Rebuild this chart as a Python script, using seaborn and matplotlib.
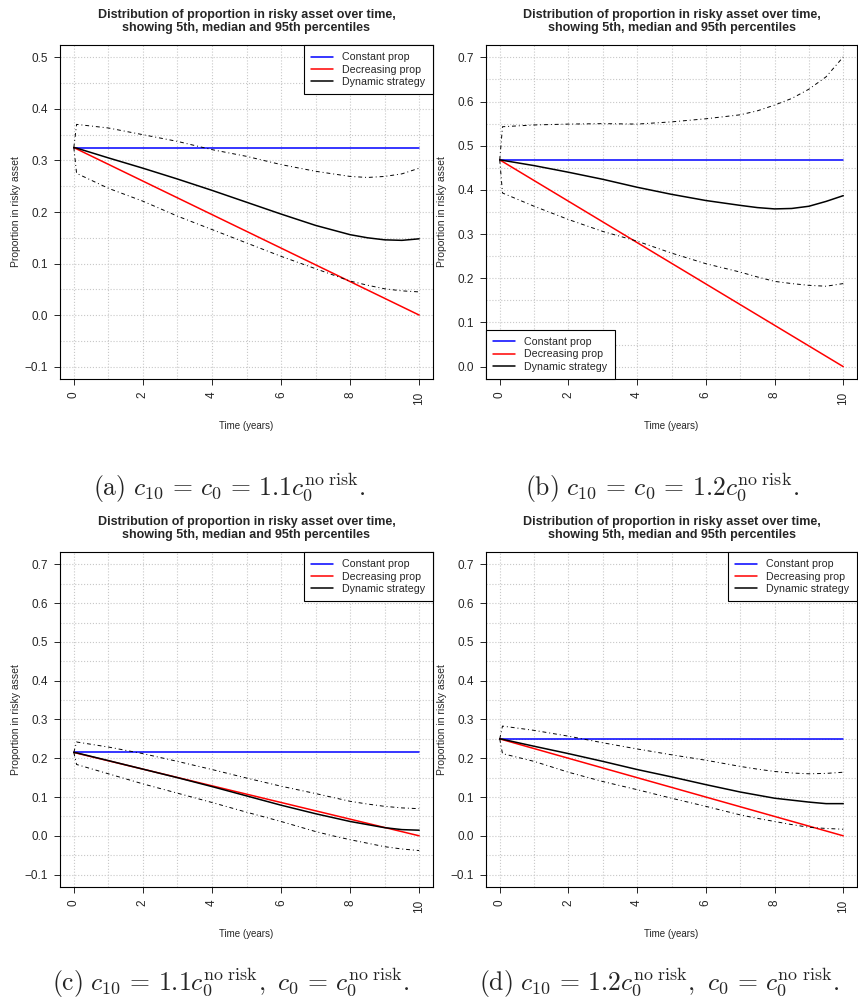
import matplotlib
matplotlib.use('Agg')
import matplotlib.pyplot as plt
import seaborn as sns
import pandas as pd

sns.set_style('ticks')
plt.rcParams['font.family'] = ['Liberation Sans', 'DejaVu Sans']
plt.rcParams['mathtext.fontset'] = 'cm'

# time points (years) where the simulated percentiles were read off
time_pts = [0, 0.08, 1, 2, 3, 4, 5, 6, 7, 7.5, 8, 8.5, 9, 9.5, 10]
line_time = [0, 10]

# starting proportion in the risky asset, one per panel
start_prop = [0.325, 0.468, 0.215, 0.250]

# dynamic strategy: median, 95th and 5th percentiles
median_a = [0.325, 0.324, 0.305, 0.285, 0.264, 0.242, 0.219, 0.196, 0.174, 0.165, 0.156, 0.150, 0.146, 0.145, 0.148]
p95_a = [0.325, 0.370, 0.363, 0.350, 0.337, 0.321, 0.308, 0.292, 0.279, 0.274, 0.269, 0.267, 0.269, 0.274, 0.285]
p05_a = [0.325, 0.275, 0.246, 0.221, 0.192, 0.166, 0.140, 0.114, 0.090, 0.078, 0.066, 0.058, 0.051, 0.047, 0.045]

median_b = [0.468, 0.467, 0.455, 0.440, 0.424, 0.406, 0.390, 0.376, 0.365, 0.360, 0.357, 0.358, 0.363, 0.374, 0.387]
p95_b = [0.468, 0.543, 0.547, 0.549, 0.550, 0.549, 0.554, 0.561, 0.570, 0.579, 0.592, 0.607, 0.628, 0.656, 0.701]
p05_b = [0.468, 0.393, 0.363, 0.333, 0.306, 0.284, 0.257, 0.233, 0.214, 0.203, 0.193, 0.188, 0.184, 0.182, 0.188]

median_c = [0.215, 0.214, 0.194, 0.172, 0.150, 0.127, 0.103, 0.079, 0.057, 0.047, 0.037, 0.029, 0.021, 0.016, 0.0145]
p95_c = [0.215, 0.242, 0.229, 0.212, 0.192, 0.171, 0.149, 0.128, 0.109, 0.099, 0.089, 0.082, 0.076, 0.072, 0.070]
p05_c = [0.215, 0.184, 0.160, 0.134, 0.110, 0.086, 0.061, 0.037, 0.011, 0.000, -0.010, -0.019, -0.028, -0.034, -0.038]

median_d = [0.250, 0.249, 0.231, 0.212, 0.192, 0.171, 0.152, 0.132, 0.113, 0.105, 0.097, 0.092, 0.087, 0.083, 0.083]
p95_d = [0.250, 0.283, 0.272, 0.257, 0.240, 0.224, 0.209, 0.195, 0.179, 0.172, 0.166, 0.162, 0.160, 0.161, 0.164]
p05_d = [0.250, 0.212, 0.192, 0.164, 0.140, 0.119, 0.097, 0.076, 0.054, 0.045, 0.037, 0.029, 0.022, 0.019, 0.017]

medians = [median_a, median_b, median_c, median_d]
upper = [p95_a, p95_b, p95_c, p95_d]
lower = [p05_a, p05_b, p05_c, p05_d]

captions = [
    r'$\mathrm{(a)}\ c_{10}\,=\,c_0\,=\,1.1c_0^{\mathrm{no\ risk}}.$',
    r'$\mathrm{(b)}\ c_{10}\,=\,c_0\,=\,1.2c_0^{\mathrm{no\ risk}}.$',
    r'$\mathrm{(c)}\ c_{10}\,=\,1.1c_0^{\mathrm{no\ risk}},\ c_0\,=\,c_0^{\mathrm{no\ risk}}.$',
    r'$\mathrm{(d)}\ c_{10}\,=\,1.2c_0^{\mathrm{no\ risk}},\ c_0\,=\,c_0^{\mathrm{no\ risk}}.$',
]
y_ranges = [(-0.1, 0.5), (0.0, 0.7), (-0.1, 0.7), (-0.1, 0.7)]
legend_locs = ['upper right', 'lower left', 'upper right', 'upper right']

fig = plt.figure(figsize=(8.58, 10.07), dpi=100)
W, H = 858, 1007
# axes boxes in pixels: left, top, right, bottom
boxes = [(60, 45, 433, 379), (486, 45, 857, 379), (60, 552, 433, 887), (486, 552, 857, 887)]
caption_pos = [(229, 487), (662, 487), (231, 982), (659, 982)]

dotdash = (0, (4, 3, 1, 3))
title = 'Distribution of proportion in risky asset over time,\nshowing 5th, median and 95th percentiles'

for i in range(4):
    l, t, r, b = boxes[i]
    ax = fig.add_axes([l / W, 1 - b / H, (r - l) / W, (b - t) / H])
    s = start_prop[i]
    df = pd.DataFrame({'t': time_pts, 'median': medians[i], 'p95': upper[i], 'p05': lower[i]})

    sns.lineplot(x=line_time, y=[s, s], color='#0000FF', lw=1.1, label='Constant prop', ax=ax)
    sns.lineplot(x=line_time, y=[s, 0.0], color='#FF0000', lw=1.1, label='Decreasing prop', ax=ax)
    sns.lineplot(data=df, x='t', y='median', color='black', lw=1.1, label='Dynamic strategy', ax=ax)
    sns.lineplot(data=df, x='t', y='p95', color='black', lw=0.7, linestyle=dotdash, ax=ax)
    sns.lineplot(data=df, x='t', y='p05', color='black', lw=0.7, linestyle=dotdash, ax=ax)

    lo, hi = y_ranges[i]
    pad = 0.04 * (hi - lo)
    ax.set_ylim(lo - pad, hi + pad)
    ax.set_xlim(-0.4, 10.4)
    ax.set_xticks(range(0, 11, 2))
    ax.set_xticks(range(0, 11), minor=True)
    yt = [round(lo + 0.1 * k, 1) for k in range(int(round((hi - lo) / 0.1)) + 1)]
    ax.set_yticks(yt)
    ax.set_yticks([round(lo + 0.05 * k, 2) for k in range(2 * len(yt) - 1)], minor=True)
    ax.set_yticklabels([f'{v:.1f}'.replace('-', '\u2212') for v in yt])
    ax.tick_params(axis='both', which='major', labelsize=8.5, length=4, width=0.7, pad=5)
    ax.tick_params(axis='both', which='minor', length=0)
    ax.tick_params(axis='x', labelrotation=90)
    ax.grid(True, which='both', color='#C8C8C8', linestyle=':', lw=0.8)
    ax.set_axisbelow(True)
    for sp in ax.spines.values():
        sp.set_visible(True)
        sp.set_color('black')
        sp.set_linewidth(0.8)

    ax.set_title(title, fontsize=9, fontweight='bold', pad=10, linespacing=1.15)
    ax.set_xlabel('Time (years)', fontsize=7)
    ax.set_ylabel('Proportion in risky asset', fontsize=7.5)
    ax.xaxis.set_label_coords(0.5, -0.125)
    ax.yaxis.set_label_coords(-0.105, 0.5)

    leg = ax.legend(loc=legend_locs[i], fontsize=7.7, frameon=True, fancybox=False,
                    edgecolor='black', framealpha=1, borderaxespad=0,
                    handlelength=2.0, handletextpad=0.9, labelspacing=0.2,
                    borderpad=0.7)
    leg.get_frame().set_linewidth(0.8)

    fig.text(caption_pos[i][0] / W, 1 - caption_pos[i][1] / H, captions[i],
             fontsize=18.5, ha='center', va='center')

fig.savefig('out.png', dpi=100)
